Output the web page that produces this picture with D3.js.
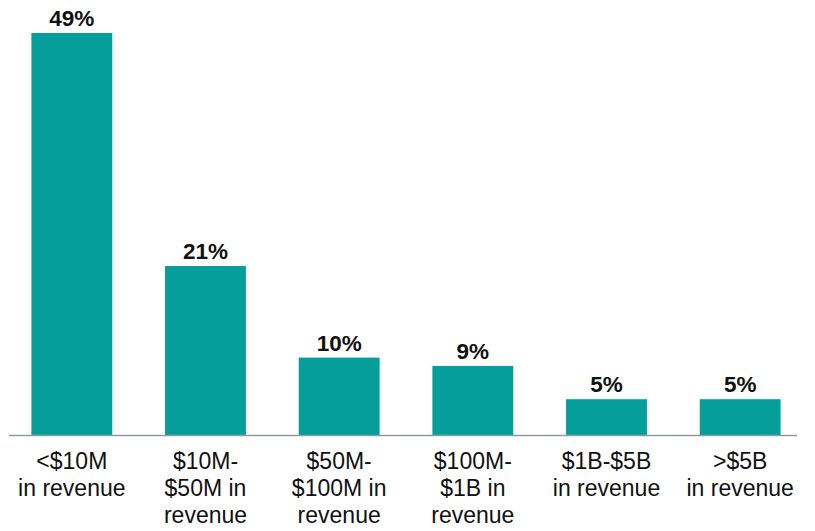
<!DOCTYPE html>
<html>
<head>
<meta charset="utf-8">
<script src="https://cdn.jsdelivr.net/npm/d3@7"></script>
<style>
body { margin: 0; background: #fff; }
text { font-family: "Liberation Sans", Arial, sans-serif; }
</style>
</head>
<body>
<script>
const categories = [
	['<$10M', 'in revenue'],
	['$10M-', '$50M in', 'revenue'],
	['$50M-', '$100M in', 'revenue'],
	['$100M-', '$1B in', 'revenue'],
	['$1B-$5B', 'in revenue'],
	['>$5B', 'in revenue']
];
const values = [49, 21, 10, 9, 5, 5];
const valueLabels = ['49%', '21%', '10%', '9%', '5%', '5%'];

const w = 815;
const h = 531;
const base = 435;

const svg = d3.select('body').append('svg')
	.attr('width', w)
	.attr('height', h);

const x = d3.scaleBand()
	.domain(d3.range(categories.length))
	.range([5, 807])
	.paddingInner(0.395)
	.paddingOuter(0.1975);

const y = d3.scaleLinear()
	.domain([0.7, 49])
	.range([base, 33]);

svg.selectAll('rect.bar')
	.data(values)
	.enter()
	.append('rect')
	.attr('class', 'bar')
	.attr('x', (d, i) => x(i))
	.attr('y', d => y(d))
	.attr('width', x.bandwidth())
	.attr('height', d => base - y(d))
	.attr('fill', '#069e9a');

svg.append('line')
	.attr('x1', 9)
	.attr('x2', 797)
	.attr('y1', base + 0.5)
	.attr('y2', base + 0.5)
	.attr('stroke', '#8d9ca2')
	.attr('stroke-width', 1.5);

svg.selectAll('text.value')
	.data(values)
	.enter()
	.append('text')
	.attr('class', 'value')
	.attr('x', (d, i) => x(i) + x.bandwidth() / 2)
	.attr('y', d => y(d) - 7)
	.attr('text-anchor', 'middle')
	.attr('font-size', 22.5)
	.attr('font-weight', 'bold')
	.attr('fill', '#111')
	.text((d, i) => valueLabels[i]);

const labels = svg.selectAll('text.cat')
	.data(categories)
	.enter()
	.append('text')
	.attr('class', 'cat')
	.attr('x', (d, i) => x(i) + x.bandwidth() / 2)
	.attr('y', 469)
	.attr('text-anchor', 'middle')
	.attr('font-size', 23)
	.attr('fill', '#111');

labels.selectAll('tspan')
	.data((d, i) => d.map(t => ({ t, cx: x(i) + x.bandwidth() / 2 })))
	.enter()
	.append('tspan')
	.attr('x', d => d.cx)
	.attr('dy', (d, j) => j === 0 ? 0 : 27)
	.text(d => d.t);
</script>
</body>
</html>
